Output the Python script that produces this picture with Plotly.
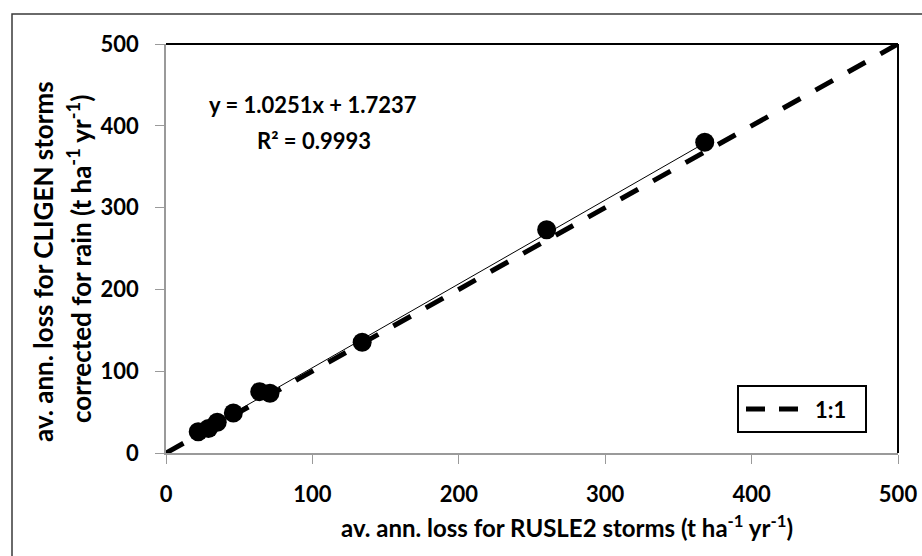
import plotly.graph_objects as go

# data
rusle2 = [22, 29, 35, 46, 64, 71, 134, 260, 368]
cligen = [26, 30, 37.5, 49, 75, 73, 135.5, 273, 380]
slope = 1.0251
intercept = 1.7237
one_to_one = [0, 500]
x_ticks = [0, 100, 200, 300, 400, 500]
y_ticks = [0, 100, 200, 300, 400, 500]

FONT = "Lato"
L, R, T, B = 166, 898, 44, 453
W, H = 922, 556
pw, ph = R - L, B - T

def px(x):
    return (x - L) / pw

def py(y):
    return (B - y) / ph

DASH = "20px,17.2px"

fig = go.Figure()

fig.add_trace(go.Scatter(
    x=one_to_one, y=one_to_one, mode="lines", name="1:1",
    line=dict(color="black", width=5, dash=DASH),
    showlegend=False, cliponaxis=False))

tx = [min(rusle2), max(rusle2)]
ty = [slope * v + intercept for v in tx]
fig.add_trace(go.Scatter(
    x=tx, y=ty, mode="lines", line=dict(color="black", width=1),
    showlegend=False, hoverinfo="skip"))

fig.add_trace(go.Scatter(
    x=rusle2, y=cligen, mode="markers",
    marker=dict(color="black", size=19, symbol="circle"),
    showlegend=False))

tickfont = dict(family=FONT, size=22, color="black", weight="bold")
axis_common = dict(
    showgrid=False, zeroline=False, showline=True, linecolor="#9a9a9a",
    linewidth=1.5, ticks="outside", tickcolor="#9a9a9a", ticklen=9,
    tickwidth=1, tickfont=tickfont,
)

fig.update_xaxes(range=[0, 500], tickvals=x_ticks, ticklabelstandoff=12, **axis_common)
fig.update_yaxes(range=[0, 500], tickvals=y_ticks, ticklabelstandoff=12, **axis_common)

shapes = [
    dict(type="line", xref="paper", yref="paper", x0=0, x1=1, y0=1, y1=1,
         line=dict(color="black", width=2)),
    dict(type="line", xref="paper", yref="paper", x0=1, x1=1, y0=0, y1=1,
         line=dict(color="black", width=2)),
    dict(type="rect", xref="paper", yref="paper",
         x0=px(12), x1=px(W + 20), y0=py(14), y1=py(H + 20),
         line=dict(color="#3a3a3a", width=1.5)),
    # legend box and symbol
    dict(type="rect", xref="paper", yref="paper",
         x0=px(738), x1=px(866), y0=py(386), y1=py(432),
         line=dict(color="black", width=2), fillcolor="white"),
    dict(type="line", xref="paper", yref="paper",
         x0=px(746), x1=px(803), y0=py(409), y1=py(409),
         line=dict(color="black", width=5, dash="19px,14px")),
]

bold = lambda s: dict(family=FONT, size=s, color="black", weight="bold")

annotations = [
    dict(text="y = 1.0251x + 1.7237", xref="paper", yref="paper",
         x=px(313), y=py(105), xanchor="center", yanchor="middle",
         showarrow=False, font=bold(22)),
    dict(text="R² = 0.9993", xref="paper", yref="paper",
         x=px(314), y=py(140), xanchor="center", yanchor="middle",
         showarrow=False, font=bold(22)),
    dict(text="av. ann. loss for RUSLE2 storms (t ha<sup>-1</sup> yr<sup>-1</sup>)",
         xref="paper", yref="paper", x=px(567), y=py(526),
         xanchor="center", yanchor="middle", showarrow=False, font=bold(24)),
    dict(text="av. ann. loss for CLIGEN storms",
         xref="paper", yref="paper", x=px(43), y=py(262), textangle=-90,
         xanchor="center", yanchor="middle", showarrow=False, font=bold(26)),
    dict(text="corrected for rain (t ha<sup>-1</sup> yr<sup>-1</sup>)",
         xref="paper", yref="paper", x=px(79), y=py(259), textangle=-90,
         xanchor="center", yanchor="middle", showarrow=False, font=bold(26)),
    dict(text="1:1", xref="paper", yref="paper", x=px(813), y=py(409),
         xanchor="left", yanchor="middle", showarrow=False, font=bold(22)),
]

fig.update_layout(
    width=W, height=H,
    margin=dict(l=L, r=W - R, t=T, b=H - B, autoexpand=False),
    plot_bgcolor="white", paper_bgcolor="white",
    shapes=shapes, annotations=annotations,
    showlegend=False,
)

fig.write_html("out.html")
